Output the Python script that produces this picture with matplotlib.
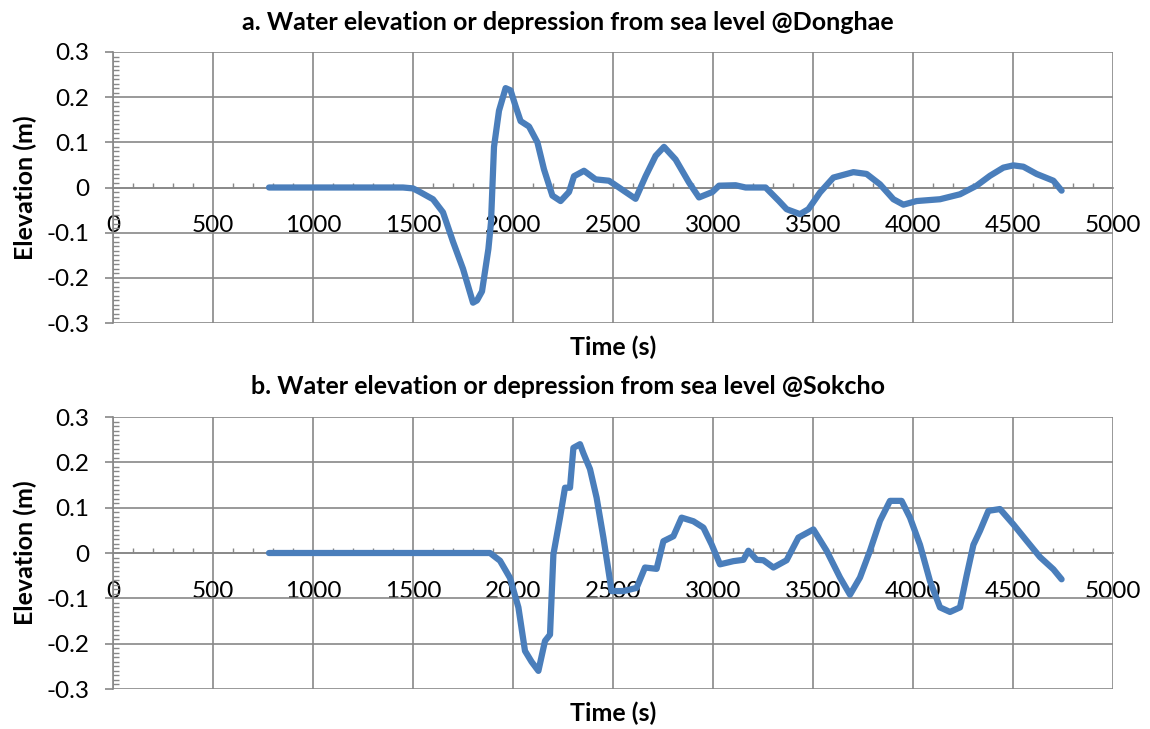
import matplotlib
matplotlib.use('Agg')
import matplotlib.pyplot as plt
from matplotlib.ticker import MultipleLocator

plt.rcParams['font.family'] = ['Lato', 'DejaVu Sans']

# Donghae
t_a = [780, 1000, 1250, 1450, 1500, 1535, 1600, 1650, 1700, 1750,
       1800, 1820, 1845, 1877, 1890, 1905, 1930, 1963, 1988, 2013,
       2038, 2080, 2122, 2155, 2197, 2238, 2280, 2305, 2355, 2413,
       2480, 2563, 2613, 2663, 2713, 2755, 2813, 2880, 2930, 2997,
       3030, 3113, 3163, 3263, 3330, 3368, 3435, 3477, 3535, 3602,
       3702, 3768, 3835, 3902, 3952, 4018, 4135, 4235, 4318, 4385,
       4452, 4502, 4552, 4618, 4702, 4743]
e_a = [0, 0, 0, 0, -0.002, -0.01, -0.026, -0.055, -0.12, -0.18,
       -0.255, -0.25, -0.23, -0.136, -0.077, 0.09, 0.17, 0.22, 0.215, 0.18,
       0.147, 0.135, 0.1, 0.04, -0.018, -0.03, -0.01, 0.025, 0.037, 0.018,
       0.015, -0.01, -0.025, 0.025, 0.07, 0.09, 0.062, 0.011, -0.022, -0.01,
       0.004, 0.005, 0, 0, -0.03, -0.048, -0.059, -0.048, -0.011, 0.022,
       0.034, 0.03, 0.007, -0.026, -0.038, -0.03, -0.026, -0.015, 0.004, 0.026,
       0.044, 0.049, 0.046, 0.03, 0.015, -0.007]

# Sokcho
t_b = [780, 1200, 1600, 1885, 1935, 1985, 2027, 2060, 2093, 2127,
       2160, 2185, 2202, 2235, 2260, 2285, 2302, 2335, 2352, 2385,
       2418, 2452, 2493, 2552, 2618, 2660, 2718, 2752, 2802, 2843,
       2902, 2952, 2993, 3035, 3102, 3152, 3177, 3218, 3252, 3302,
       3368, 3427, 3502, 3568, 3635, 3685, 3735, 3785, 3835, 3885,
       3943, 3985, 4035, 4085, 4135, 4185, 4235, 4268, 4302, 4335,
       4377, 4435, 4502, 4568, 4635, 4702, 4743]
e_b = [0, 0, 0, 0, -0.017, -0.055, -0.12, -0.216, -0.24, -0.26,
       -0.194, -0.18, -0.003, 0.078, 0.144, 0.144, 0.232, 0.24, 0.22, 0.185,
       0.122, 0.034, -0.084, -0.084, -0.077, -0.032, -0.035, 0.026, 0.037, 0.078,
       0.07, 0.056, 0.019, -0.025, -0.018, -0.015, 0.005, -0.015, -0.016, -0.032,
       -0.016, 0.034, 0.052, 0.005, -0.054, -0.092, -0.054, 0.005, 0.071, 0.115,
       0.115, 0.078, 0.018, -0.062, -0.12, -0.13, -0.12, -0.05, 0.018, 0.049,
       0.093, 0.097, 0.063, 0.027, -0.009, -0.036, -0.058]

titles = ['a. Water elevation or depression from sea level @Donghae',
          'b. Water elevation or depression from sea level @Sokcho']
yticks = [-0.3, -0.2, -0.1, 0, 0.1, 0.2, 0.3]
ylabels = ['-0.3', '-0.2', '-0.1', '0', '0.1', '0.2', '0.3']

W, H = 1150, 729
fig = plt.figure(figsize=(W / 100, H / 100), dpi=100)

grid_c = '#888888'
line_c = '#4a7ebb'

# pixel boxes: left, top, right, bottom
boxes = [(113, 52, 1113, 323), (113, 417, 1113, 689)]
series = [(t_a, e_a), (t_b, e_b)]

for i in range(2):
    l, t, r, b = boxes[i]
    ax = fig.add_axes([l / W, 1 - b / H, (r - l) / W, (b - t) / H])
    ax.plot(series[i][0], series[i][1], color=line_c, lw=4.5,
            solid_capstyle='round', solid_joinstyle='round', zorder=3)
    ax.set_xlim(0, 5000)
    ax.set_ylim(-0.3, 0.3)
    ax.xaxis.set_major_locator(MultipleLocator(500))
    ax.xaxis.set_minor_locator(MultipleLocator(100))
    ax.set_yticks(yticks)
    ax.set_yticklabels(ylabels)
    ax.yaxis.set_minor_locator(MultipleLocator(0.01))
    ax.grid(which='major', color=grid_c, lw=1.2)
    ax.set_axisbelow(True)
    for s in ['top', 'right']:
        ax.spines[s].set_visible(False)
    ax.spines['left'].set_color(grid_c)
    ax.spines['left'].set_linewidth(1.2)
    ax.spines['bottom'].set_position(('data', 0))
    ax.spines['bottom'].set_color(grid_c)
    ax.spines['bottom'].set_linewidth(1.2)
    ax.tick_params(axis='x', which='major', length=0, pad=20, labelsize=17.5)
    ax.tick_params(axis='x', which='minor', direction='in', length=3.5,
                   width=1, color=grid_c)
    ax.tick_params(axis='y', which='major', direction='out', length=6,
                   width=1.2, color=grid_c, pad=11, labelsize=17.5)
    ax.tick_params(axis='y', which='minor', direction='in', length=4,
                   width=1, color=grid_c)
    mid = (t + b) / 2
    fig.text(568 / W, 1 - (t - 30) / H, titles[i], ha='center', va='center',
             fontsize=18, fontweight='bold')
    fig.text(25 / W, 1 - mid / H, 'Elevation (m)', rotation=90, ha='center',
             va='center', fontsize=18, fontweight='bold')
    fig.text(613 / W, 1 - (b + 24) / H, 'Time (s)', ha='center', va='center',
             fontsize=18, fontweight='bold')

fig.savefig('out.png', dpi=100, facecolor='white')
